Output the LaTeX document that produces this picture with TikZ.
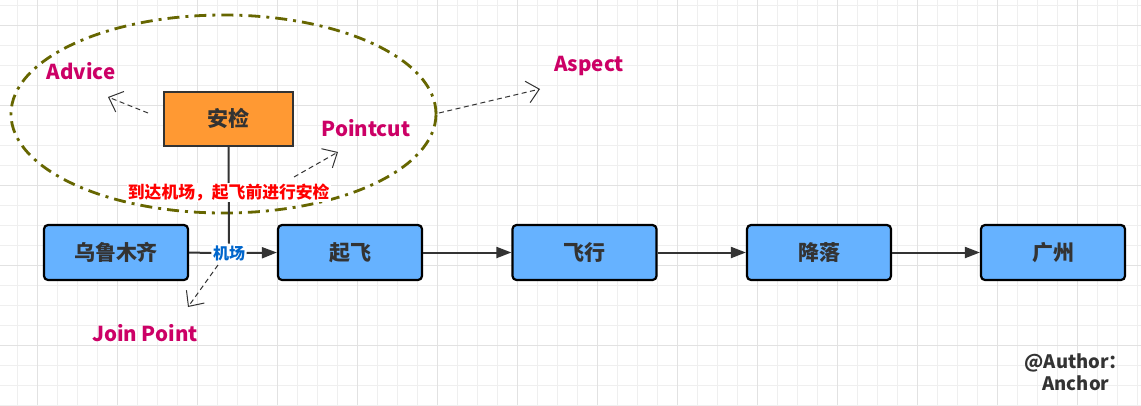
\documentclass[tikz,border=0pt]{standalone}
\usepackage{fontspec}
\setmainfont{Noto Sans CJK SC}
\usetikzlibrary{arrows.meta,shapes.geometric}
\definecolor{gridminor}{HTML}{EFEFEF}
\definecolor{gridmajor}{HTML}{E2E2E2}
\definecolor{boxblue}{HTML}{66B2FF}
\definecolor{boxorange}{HTML}{FF9933}
\definecolor{olivec}{HTML}{666600}
\definecolor{magentac}{HTML}{CC0066}
\definecolor{darkc}{HTML}{333333}
\definecolor{bluetext}{HTML}{0066CC}
\tikzset{
  flowbox/.style={draw=black, line width=2.2pt, fill=boxblue, rounded corners=4pt,
    minimum width=144pt, minimum height=55pt, inner sep=0pt, text=darkc,
    font=\bfseries\fontsize{21}{21}\selectfont},
  aopbox/.style={draw=darkc, line width=2pt, fill=boxorange,
    minimum width=129pt, minimum height=54pt, inner sep=0pt, text=darkc,
    font=\bfseries\fontsize{21}{21}\selectfont},
  flowarrow/.style={draw=darkc, line width=2pt, -{Triangle[length=15pt,width=11pt]}},
  plainline/.style={draw=darkc, line width=2pt},
  hintarrow/.style={draw=darkc, line width=1pt, dash pattern=on 5pt off 3.5pt,
    -{Straight Barb[length=12pt,width=22pt,line width=1pt]}},
  termlabel/.style={text=magentac, font=\bfseries\fontsize{20.5}{20.5}\selectfont, inner sep=0pt},
  redlabel/.style={text=red, fill=white, font=\bfseries\fontsize{16.8}{16.8}\selectfont, inner sep=1pt},
  bluelabel/.style={text=bluetext, fill=white, font=\bfseries\fontsize{16}{16}\selectfont, inner sep=1.5pt},
}
\begin{document}
\begin{tikzpicture}[x=1pt,y=-1pt]
\useasboundingbox (0,0) rectangle (1141,405);
\fill[white] (0,0) rectangle (1141,405);
% grid
\foreach \x in {17,37,...,1137} \draw[gridminor, line width=1pt] (\x,0) -- (\x,405);
\foreach \y in {5,25,...,405} \draw[gridminor, line width=1pt] (0,\y) -- (1141,\y);
\foreach \x in {37,117,...,1137} \draw[gridmajor, line width=1pt] (\x,0) -- (\x,405);
\foreach \y in {25,105,...,405} \draw[gridmajor, line width=1pt] (0,\y) -- (1141,\y);

% aspect ellipse
\node[ellipse, draw=olivec, line width=2.8pt, dash pattern=on 12pt off 6pt on 3pt off 6pt,
      minimum width=425pt, minimum height=198pt, inner sep=0pt] (ell) at (223.5,114) {};

% flow boxes
\node[flowbox] (u) at (116,252.5) {乌鲁木齐};
\node[flowbox] (q) at (350,252.5) {起飞};
\node[flowbox] (f) at (584.5,252.5) {飞行};
\node[flowbox] (j) at (819,252.5) {降落};
\node[flowbox] (g) at (1053,252.5) {广州};

% join point label on first connector
\node[bluelabel] (jc) at (229,253) {机场};
\draw[plainline] (u.east) -- (jc.west);
\draw[flowarrow] (jc.east) -- (q.west);
\draw[flowarrow] (q) -- (f);
\draw[flowarrow] (f) -- (j);
\draw[flowarrow] (j) -- (g);

% aop box
\node[aopbox] (aj) at (228.5,118.5) {安检};
\draw[plainline] (aj.south) -- node[redlabel, pos=0.47] (pc) {到达机场，起飞前进行安检} (jc.north);

% terms
\node[termlabel] (adv) at (81,71) {Advice};
\node[termlabel] (ptc) at (366,128) {Pointcut};
\node[termlabel] (asp) at (589,66) {Aspect};
\node[termlabel] (jpt) at (145,333) {Join Point};

% hint arrows
\coordinate (advS) at (148,113);
\coordinate (advE) at (108,97);
\draw[hintarrow] (advS) -- (advE);
\coordinate (ptcS) at (294,177);
\coordinate (ptcE) at (338,152);
\draw[hintarrow] (ptcS) -- (ptcE);
\coordinate (aspS) at (439,113);
\coordinate (aspE) at (540,89);
\draw[hintarrow] (aspS) -- (aspE);
\coordinate (jptS) at (218,265);
\coordinate (jptE) at (188,307);
\draw[hintarrow] (jptS) -- (jptE);

% author
\node[text=darkc, font=\bfseries\fontsize{18.5}{22}\selectfont, align=center, inner sep=0pt] (auth) at (1076,372) {@Author：\\Anchor};
\end{tikzpicture}
\end{document}
